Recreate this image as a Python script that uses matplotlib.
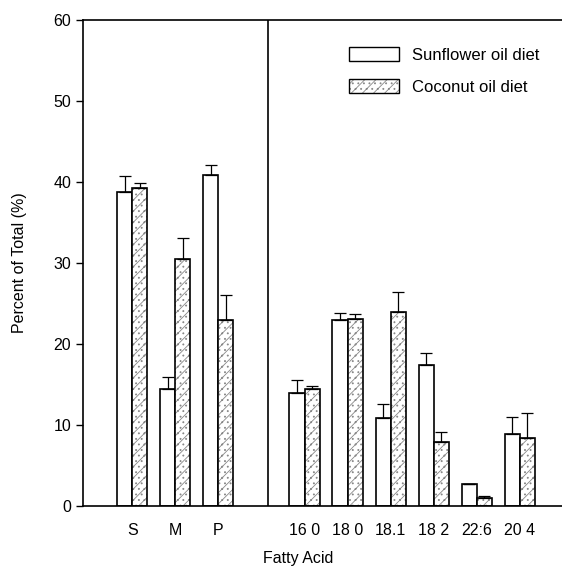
import numpy as np
import matplotlib
matplotlib.use('Agg')
import matplotlib.pyplot as plt
from matplotlib.patches import Patch

plt.rcParams['font.family'] = ['Liberation Sans', 'DejaVu Sans']
plt.rcParams['hatch.linewidth'] = 0.6

# data
labels = ['S', 'M', 'P', '16 0', '18 0', '18.1', '18 2', '22:6', '20 4']
positions = [0, 1, 2, 4, 5, 6, 7, 8, 9]
sunflower = [38.8, 14.4, 40.8, 14.0, 23.0, 10.9, 17.4, 2.7, 8.9]
sunflower_err = [1.9, 1.5, 1.3, 1.5, 0.8, 1.7, 1.5, 0.0, 2.1]
coconut = [39.2, 30.5, 22.9, 14.4, 23.1, 24.0, 7.9, 1.0, 8.4]
coconut_err = [0.7, 2.6, 3.2, 0.4, 0.6, 2.4, 1.2, 0.2, 3.1]

fig = plt.figure(figsize=(5.62, 5.71), dpi=100)
ax = fig.add_axes([0.148, 0.114, 0.852, 0.851])

x = np.array(positions)
w = 0.35
ax.bar(x - w / 2, sunflower, w, color='white', edgecolor='black', lw=1.2)
# speckled fill in gray, then black outline on top
ax.bar(x + w / 2, coconut, w, color='white', edgecolor='#888888', lw=0,
       hatch='///...')
ax.bar(x + w / 2, coconut, w, color='none', edgecolor='black', lw=1.2)
ax.errorbar(x - w / 2, sunflower, yerr=[np.zeros(len(x)), sunflower_err],
            fmt='none', ecolor='black', elinewidth=0.9, capsize=4, capthick=0.9)
ax.errorbar(x + w / 2, coconut, yerr=[np.zeros(len(x)), coconut_err],
            fmt='none', ecolor='black', elinewidth=0.9, capsize=4, capthick=0.9)

ax.axvline(3.16, color='black', lw=1.2)

ax.set_xlim(-1.14, 9.98)
ax.set_ylim(0, 60)
ax.set_yticks([0, 10, 20, 30, 40, 50, 60])
ax.set_xticks(positions)
ax.set_xticklabels(labels)
ax.tick_params(axis='x', length=0, pad=12, labelsize=11.5)
ax.tick_params(axis='y', length=5, width=1, labelsize=11.5)
ax.spines['right'].set_visible(False)
for s in ['left', 'top', 'bottom']:
    ax.spines[s].set_linewidth(1.2)

ax.set_xlabel('Fatty Acid', fontsize=11.5)
ax.xaxis.set_label_coords(0.449, -0.093)
ax.set_ylabel('Percent of Total (%)', fontsize=11.5)
ax.yaxis.set_label_coords(-0.118, 0.5)

handles = [Patch(facecolor='white', edgecolor='black', lw=1.0),
           (Patch(facecolor='white', edgecolor='#888888', hatch='///...', lw=0),
            Patch(facecolor='none', edgecolor='black', lw=1.0))]
ax.legend(handles, ['Sunflower oil diet', 'Coconut oil diet'],
          loc='upper right', bbox_to_anchor=(0.985, 0.975), frameon=False,
          fontsize=12, handlelength=3.0, handleheight=0.9, labelspacing=1.0,
          handletextpad=0.8)

fig.savefig('out.png', dpi=100)
